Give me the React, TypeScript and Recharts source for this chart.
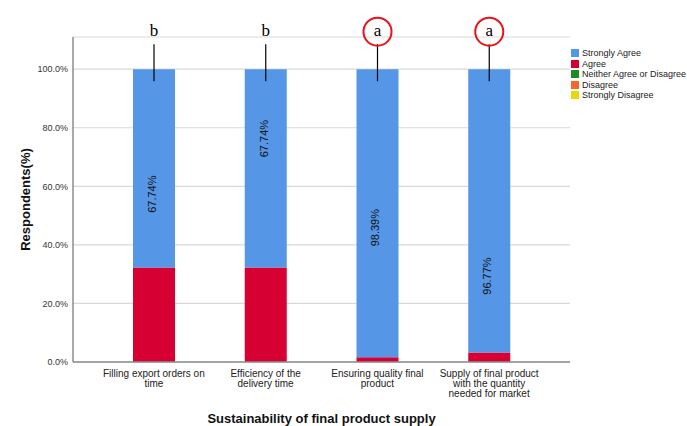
import { Bar, BarChart, CartesianGrid, Label, LabelList, XAxis, YAxis } from "recharts";

const categories = [
  "Filling export orders on\ntime",
  "Efficiency of the\ndelivery time",
  "Ensuring quality final\nproduct",
  "Supply of final product\nwith the quantity\nneeded for market",
];
const stronglyAgree = [67.74, 67.74, 98.39, 96.77];
const agree = [32.26, 32.26, 1.61, 3.23];
const neither = [0, 0, 0, 0];
const disagree = [0, 0, 0, 0];
const stronglyDisagree = [0, 0, 0, 0];
const groups = ["b", "b", "a", "a"];
const circled = [false, false, true, true];
const yTicks = [0, 20, 40, 60, 80, 100];

// where the rotated percentage sits inside each blue segment (0 = top, 1 = bottom)
const labelAt = [0.63, 0.35, 0.55, 0.73];

const series = [
  { key: "stronglyAgree", name: "Strongly Agree", color: "#5596e6" },
  { key: "agree", name: "Agree", color: "#d60032" },
  { key: "neither", name: "Neither Agree or Disagree", color: "#1f8a24" },
  { key: "disagree", name: "Disagree", color: "#f5682a" },
  { key: "stronglyDisagree", name: "Strongly Disagree", color: "#e6d90a" },
];

const data = categories.map((name, i) => ({
  name,
  stronglyAgree: stronglyAgree[i],
  agree: agree[i],
  neither: neither[i],
  disagree: disagree[i],
  stronglyDisagree: stronglyDisagree[i],
  group: groups[i],
}));

const sans = "Arial, 'Liberation Sans', sans-serif";
const serif = "'Times New Roman', 'Liberation Serif', serif";

function CategoryTick({ x, y, payload }: any) {
  const lines = String(payload.value).split("\n");
  return (
    <text x={x} y={y} textAnchor="middle" fontSize={10} fill="#222" fontFamily={sans}>
      {lines.map((l, i) => (
        <tspan key={i} x={x} dy={i === 0 ? 15 : 10}>
          {l}
        </tspan>
      ))}
    </text>
  );
}

function ShareLabel(props: any) {
  const { x, y, width, height, value, index } = props;
  const cx = x + width / 2;
  const cy = y + height * labelAt[index];
  return (
    <text
      x={cx}
      y={cy}
      dy={2}
      transform={`rotate(-90 ${cx} ${cy})`}
      textAnchor="middle"
      fontSize={11}
      fill="#111"
      fontFamily={sans}
    >
      {Number(value).toFixed(2)}%
    </text>
  );
}

function GroupMark(props: any) {
  const { x, y, width, value, index } = props;
  const cx = x + width / 2;
  return (
    <g>
      <line x1={cx} x2={cx} y1={y - 25} y2={y + 12} stroke="#000" strokeWidth={1.2} />
      {circled[index] && (
        <circle cx={cx} cy={y - 37.5} r={14} fill="none" stroke="#e8141c" strokeWidth={2} />
      )}
      <text x={cx} y={y - 33} textAnchor="middle" fontSize={17} fill="#000" fontFamily={serif}>
        {value}
      </text>
    </g>
  );
}

function LegendBox() {
  return (
    <div
      style={{
        position: "absolute",
        left: 571,
        top: 48,
        fontFamily: sans,
        fontSize: 9,
        color: "#222",
        lineHeight: "10.5px",
      }}
    >
      {series.map((s) => (
        <div key={s.key} style={{ display: "flex", alignItems: "center", whiteSpace: "nowrap" }}>
          <span style={{ width: 8, height: 8, background: s.color, marginRight: 3, display: "inline-block" }} />
          {s.name}
        </div>
      ))}
    </div>
  );
}

export default function App() {
  return (
    <div style={{ position: "absolute", left: 0, top: 0, width: 687, height: 426, background: "#fff" }}>
      <BarChart
        width={687}
        height={426}
        data={data}
        margin={{ top: 37, right: 117, bottom: 0, left: 0 }}
        barSize={42}
      >
        <CartesianGrid vertical={false} stroke="#d9d9d9" strokeWidth={1.2} />
        <XAxis
          dataKey="name"
          height={64}
          interval={0}
          padding={{ left: 25, right: 25 }}
          tickLine={false}
          tickSize={0}
          tickMargin={0}
          axisLine={{ stroke: "#8c8c8c", strokeWidth: 1.5 }}
          tick={<CategoryTick />}
        >
          <Label
            content={({ viewBox }: any) => (
              <text
                x={viewBox.x + viewBox.width / 2}
                y={423}
                textAnchor="middle"
                fontSize={13}
                fontWeight="bold"
                fill="#111"
                fontFamily={sans}
              >
                Sustainability of final product supply
              </text>
            )}
          />
        </XAxis>
        <YAxis
          width={73}
          domain={[0, 111]}
          ticks={yTicks}
          allowDataOverflow
          tickLine={false}
          tickSize={3}
          tickMargin={2}
          axisLine={{ stroke: "#555" }}
          tick={{ fontSize: 9, fill: "#333", fontFamily: sans }}
          tickFormatter={(v: number) => `${v.toFixed(1)}%`}
        >
          <Label
            content={({ viewBox }: any) => {
              const cy = viewBox.y + viewBox.height / 2;
              return (
                <text
                  x={30}
                  y={cy}
                  transform={`rotate(-90 30 ${cy})`}
                  textAnchor="middle"
                  fontSize={13}
                  fontWeight="bold"
                  fill="#111"
                  fontFamily={sans}
                >
                  Respondents(%)
                </text>
              );
            }}
          />
        </YAxis>
        {[...series].reverse().map((s) => (
          <Bar key={s.key} dataKey={s.key} name={s.name} stackId="a" fill={s.color} isAnimationActive={false}>
            {s.key === "stronglyAgree" && <LabelList dataKey="stronglyAgree" content={<ShareLabel />} />}
            {s.key === "stronglyAgree" && <LabelList dataKey="group" content={<GroupMark />} />}
          </Bar>
        ))}
      </BarChart>
      <LegendBox />
    </div>
  );
}
